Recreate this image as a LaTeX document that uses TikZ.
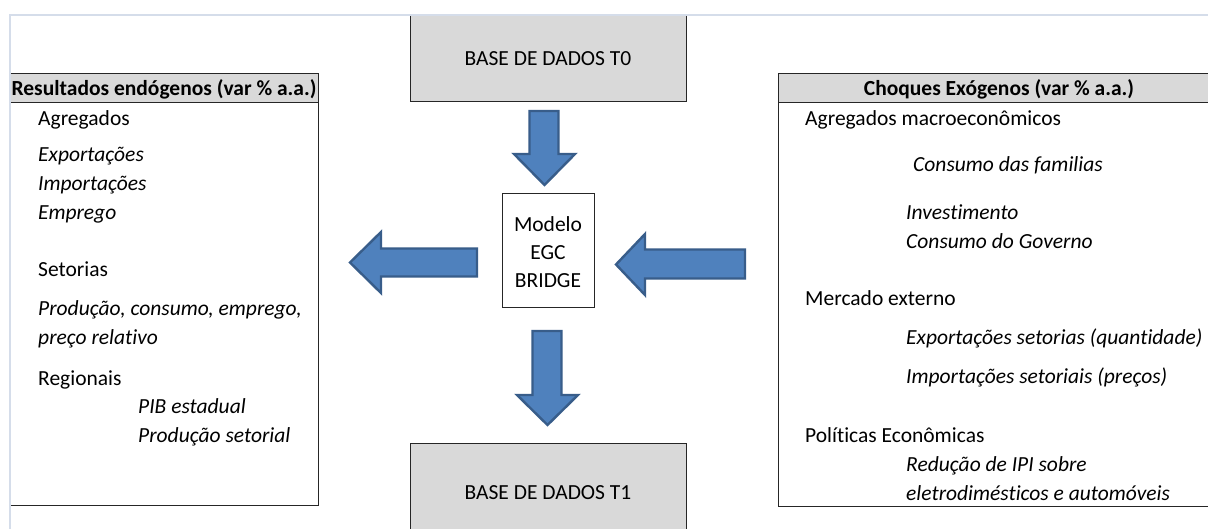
\documentclass[tikz,border=0pt]{standalone}
\usepackage{fontspec}
\setmainfont{Carlito}[Ligatures={NoCommon}]
\definecolor{hdr}{HTML}{D9D9D9}
\definecolor{frame}{HTML}{D5DDEA}
\definecolor{arrfill}{HTML}{4F81BD}
\definecolor{arrline}{HTML}{385D8A}
\definecolor{edge}{HTML}{262626}
\begin{document}
\begin{tikzpicture}[x=1pt,y=-1pt,
  txt/.style={font=\fontsize{21.5}{26}\selectfont, inner sep=0pt, text height=15pt, text depth=5pt, anchor=west, yshift=-2.5pt},
  itx/.style={txt, font=\fontsize{21.5}{26}\selectfont\itshape},
  hd/.style={font=\fontsize{21.5}{26}\selectfont\bfseries, inner sep=0pt, text height=15pt, text depth=5pt, yshift=-2.5pt},
  boxl/.style={draw=edge, line width=1.4pt},
  blockarrow/.style={fill=arrfill, draw=arrline, line width=2.4pt, line join=miter},
  ctr/.style={font=\fontsize{21.5}{26}\selectfont, inner sep=0pt, text height=15pt, text depth=5pt, align=center, yshift=-2.5pt}
]
\useasboundingbox (0,0) rectangle (1208,529);
\clip (0,0) rectangle (1208,529);
\fill[white] (0,0) rectangle (1208,529);

% left box
\node[boxl, anchor=north west, minimum width=308pt, minimum height=432pt, inner sep=0pt] (res) at (10,73) {};
\node[boxl, fill=hdr, anchor=north west, minimum width=308pt, minimum height=29pt, inner sep=0pt] (reshd) at (10,73) {};
\node[hd] (reshdt) at (164,88) {Resultados endógenos (var \% a.a.)};
\node[txt] (l1) at (38,118) {Agregados};
\node[itx] (l2) at (38,154) {Exportações};
\node[itx] (l3) at (38,183) {Importações};
\node[itx] (l4) at (38,212) {Emprego};
\node[txt] (l5) at (38,269) {Setorias};
\node[itx] (l6) at (38,308) {Produção, consumo, emprego,};
\node[itx] (l7) at (38,337) {preço relativo};
\node[txt] (l8) at (38,378) {Regionais};
\node[itx] (l9) at (138,406) {PIB estadual};
\node[itx] (l10) at (138,435) {Produção setorial};

% right box
\node[boxl, anchor=north west, minimum width=450pt, minimum height=433pt, inner sep=0pt] (cho) at (778,73) {};
\node[boxl, fill=hdr, anchor=north west, minimum width=450pt, minimum height=29pt, inner sep=0pt] (chohd) at (778,73) {};
\node[hd] (chohdt) at (999,88) {Choques Exógenos (var \% a.a.)};
\node[txt] (r1) at (805,118) {Agregados macroeconômicos};
\node[itx] (r2) at (913,164) {Consumo das familias};
\node[itx] (r3) at (906,212) {Investimento};
\node[itx] (r4) at (906,241) {Consumo do Governo};
\node[txt] (r5) at (805,298) {Mercado externo};
\node[itx] (r6) at (906,337) {Exportações setorias (quantidade)};
\node[itx] (r7) at (906,376) {Importações setoriais (preços)};
\node[txt] (r8) at (805,435) {Políticas Econômicas};
\node[itx] (r9) at (906,464) {Redução de IPI sobre};
\node[itx] (r10) at (906,493) {eletrodimésticos e automóveis};

% base T0 / T1
\node[boxl, fill=hdr, anchor=north west, minimum width=276pt, minimum height=100pt, inner sep=0pt] (t0) at (410,1) {};
\node[ctr] (t0t) at (548,58) {BASE DE DADOS T0};
\node[boxl, fill=hdr, anchor=north west, minimum width=276pt, minimum height=100pt, inner sep=0pt] (t1) at (410,443) {};
\node[ctr] (t1t) at (548,492) {BASE DE DADOS T1};

% model box
\node[boxl, fill=white, anchor=north west, minimum width=92pt, minimum height=114pt, inner sep=0pt] (mod) at (502,193) {};
\node[ctr] (m1) at (548,224) {Modelo};
\node[ctr] (m2) at (548,252) {EGC};
\node[ctr] (m3) at (548,280) {BRIDGE};

% block arrows
\draw[blockarrow] (529.5,111) -- (558.5,111) -- (558.5,154) -- (575,154) -- (544.5,185) -- (514,154) -- (529.5,154) -- cycle;
\draw[blockarrow] (532.5,331) -- (561.5,331) -- (561.5,395) -- (578,395) -- (547.5,425) -- (517,395) -- (532.5,395) -- cycle;
\draw[blockarrow] (477,248.5) -- (477,276.5) -- (381,276.5) -- (381,293) -- (350,262.5) -- (381,232) -- (381,248.5) -- cycle;
\draw[blockarrow] (745,249.5) -- (745,278.5) -- (645,278.5) -- (645,295) -- (616,264.5) -- (645,234) -- (645,249.5) -- cycle;

% sheet frame
\fill[white] (0,0) rectangle (1208,14);
\draw[frame, line width=2pt] (10,529) -- (10,15) -- (1208,15);
\end{tikzpicture}
\end{document}
